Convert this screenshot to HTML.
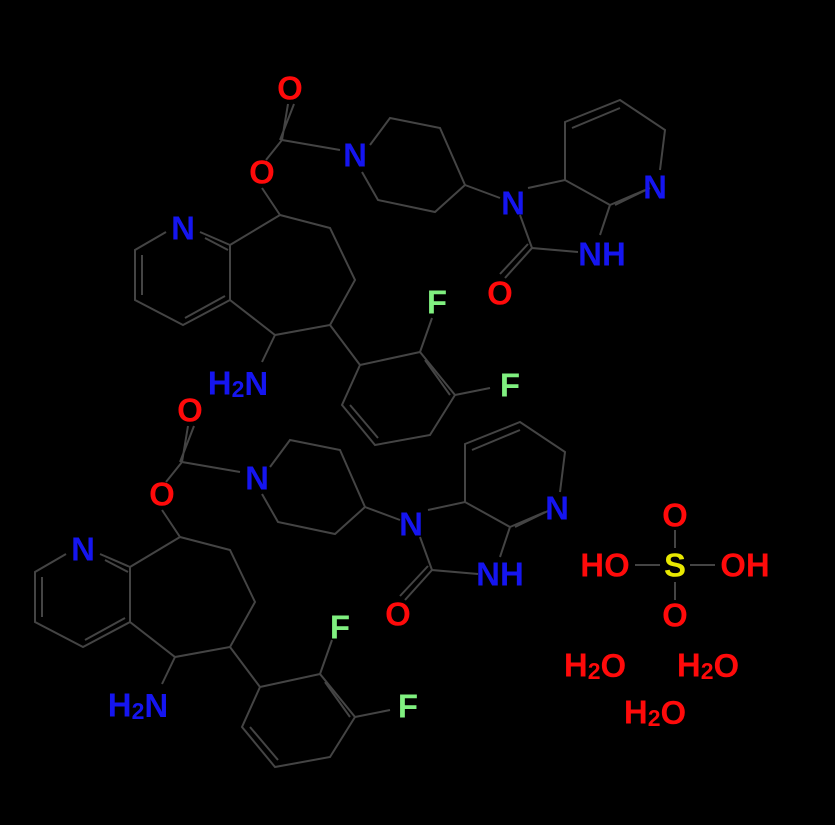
<!DOCTYPE html>
<html><head><meta charset="utf-8">
<style>
html,body{margin:0;padding:0;background:#000;}
svg{display:block;}
text{font-family:"Liberation Sans",sans-serif;font-weight:bold;font-size:33px;text-anchor:middle;dominant-baseline:central;}
.b{fill:#1515f0}.r{fill:#ff0a0a}.g{fill:#80f080}.y{fill:#e8e800}
</style></head>
<body>
<svg width="835" height="825" viewBox="0 0 835 825" xmlns="http://www.w3.org/2000/svg">
<g id="bonds" stroke="#444" stroke-width="2" fill="none">
<path d="M288,104 L282,140 M280,140 L294,104 M282,140 L266,160 M282,140 L340,150"/>
<path d="M262,188 L280,215"/>
<path d="M370,145 L390,118 L440,128 L465,185 L435,212 L378,200 L362,172"/>
<path d="M465,185 L500,198"/>
<path d="M520,215 L532,248 L578,252 M532,248 L505,278 M528,244 L500,274"/>
<path d="M528,188 L565,180 L610,205 L600,235 M565,180 L565,122 L620,100 L665,130 L660,170 M610,205 L645,190"/>
<path d="M572,128 L620,108 M615,205 L650,188"/>
<path d="M280,215 L330,228 L355,280 L330,325 L275,335 L230,300 L230,245 L280,215"/>
<path d="M230,245 L200,232 M166,232 L135,250 L135,300 L183,325 L230,300 M142,255 L142,295 M185,318 L225,296 M205,238 L228,250"/>
<path d="M275,335 L262,362"/>
<path d="M330,325 L360,365 L420,352 L455,395 L430,435 L375,445 L342,405 L360,365"/>
<path d="M420,352 L432,318 M455,395 L490,388 M350,405 L378,438 M425,360 L450,395"/>
</g>
<use href="#bonds" transform="translate(-100,322)"/>
<text x="290" y="88" class="r">O</text>
<text x="262" y="172" class="r">O</text>
<text x="355" y="155" class="b">N</text>
<text x="513" y="203" class="b">N</text>
<text x="655" y="187" class="b">N</text>
<text x="602" y="254" class="b">NH</text>
<text x="500" y="293" class="r">O</text>
<text x="183" y="228" class="b">N</text>
<text x="238" y="383" class="b">H<tspan font-size="23" dy="6">2</tspan><tspan dy="-6">N</tspan></text>
<text x="437" y="302" class="g">F</text>
<text x="510" y="385" class="g">F</text>
<text x="190" y="410" class="r">O</text>
<text x="162" y="494" class="r">O</text>
<text x="257" y="478" class="b">N</text>
<text x="411" y="524" class="b">N</text>
<text x="557" y="508" class="b">N</text>
<text x="500" y="574" class="b">NH</text>
<text x="398" y="614" class="r">O</text>
<text x="83" y="549" class="b">N</text>
<text x="138" y="705" class="b">H<tspan font-size="23" dy="6">2</tspan><tspan dy="-6">N</tspan></text>
<text x="340" y="627" class="g">F</text>
<text x="408" y="706" class="g">F</text>
<g stroke="#444" stroke-width="2"><path d="M635,565 L660,565 M690,565 L715,565 M675,530 L675,548 M675,582 L675,600"/></g>
<text x="605" y="565" class="r">HO</text>
<text x="675" y="565" class="y">S</text>
<text x="745" y="565" class="r">OH</text>
<text x="675" y="515" class="r">O</text>
<text x="675" y="615" class="r">O</text>
<text x="595" y="665" class="r">H<tspan font-size="23" dy="6">2</tspan><tspan dy="-6">O</tspan></text>
<text x="708" y="665" class="r">H<tspan font-size="23" dy="6">2</tspan><tspan dy="-6">O</tspan></text>
<text x="655" y="712" class="r">H<tspan font-size="23" dy="6">2</tspan><tspan dy="-6">O</tspan></text>
</svg>
</body></html>
